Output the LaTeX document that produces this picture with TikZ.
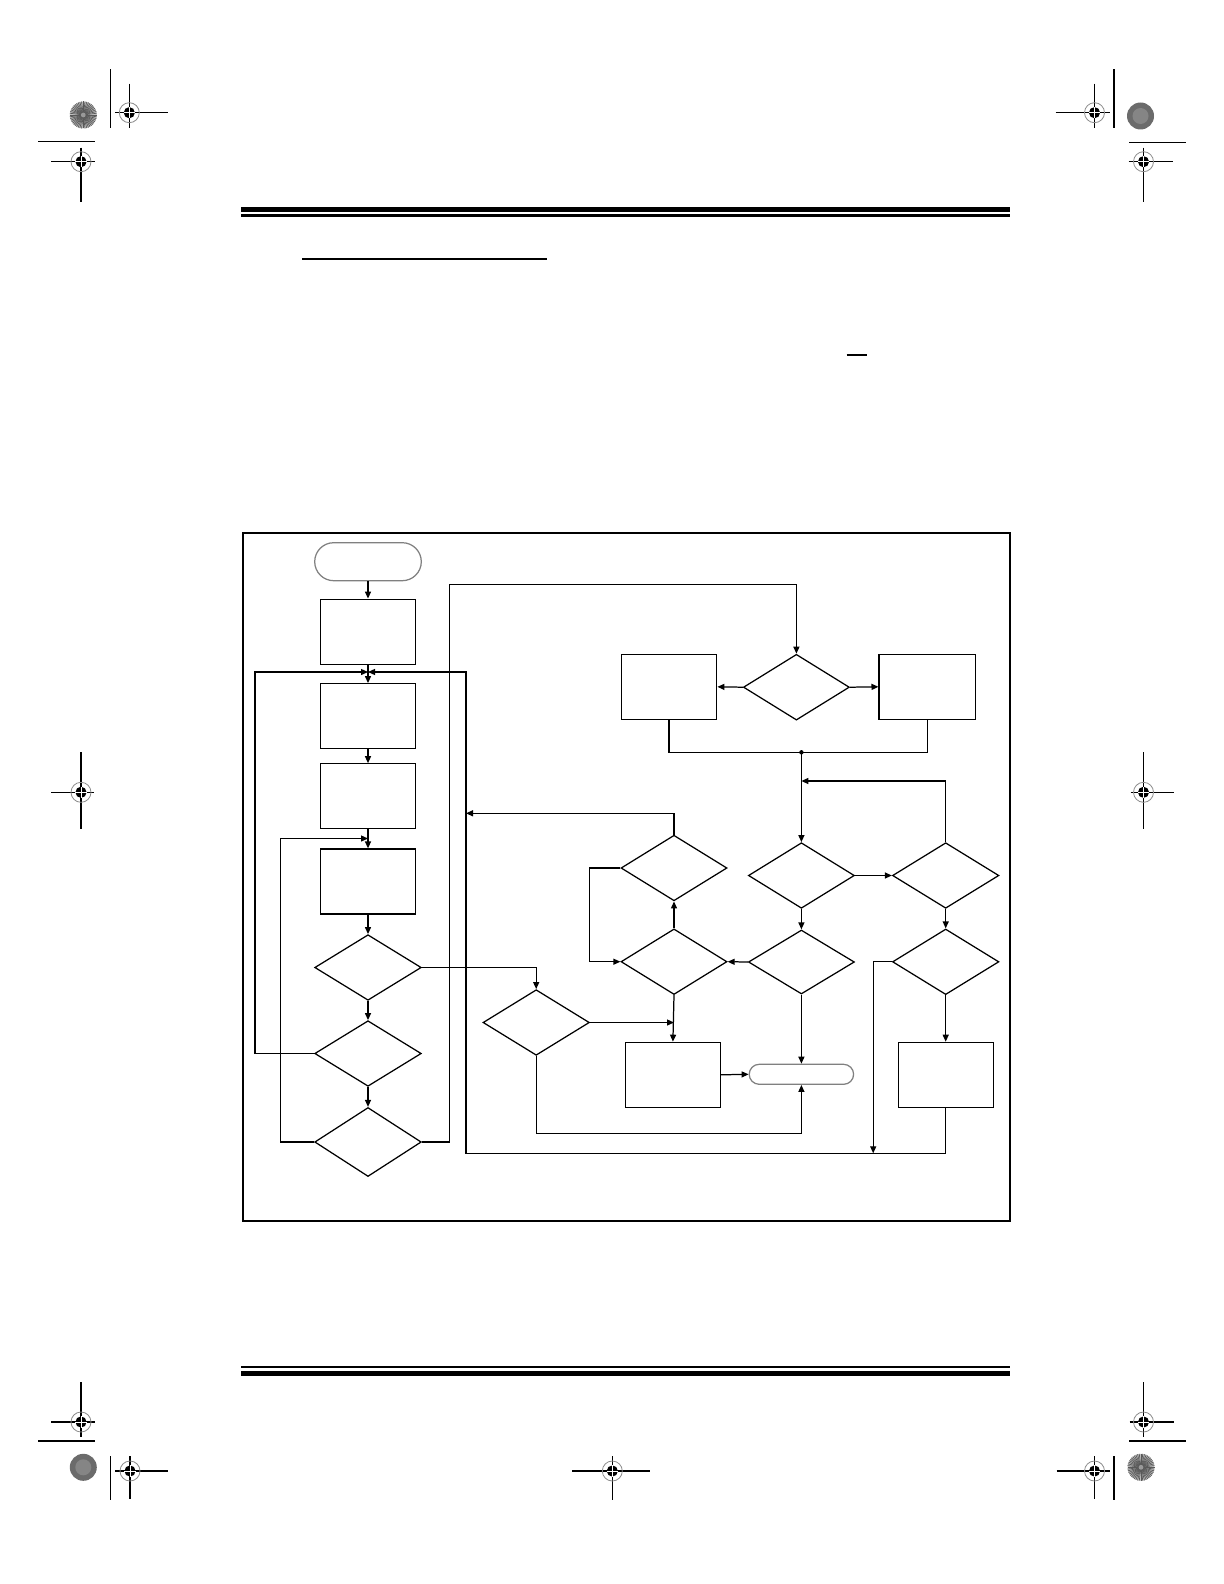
\documentclass[tikz,border=0pt]{standalone}
\usetikzlibrary{shapes.geometric,shapes.misc,arrows.meta}
\newcommand\regmk[6]{%
  \draw[line width=0.7pt] (#1-#3,#2) -- (#1+#4,#2) (#1,#2-#5) -- (#1,#2+#6);
  \draw[black!45, line width=0.4pt] (#1,#2) circle (5pt);
  \fill (#1,#2) circle (2.8pt);
  \draw[white, line width=0.35pt] (#1,#2) ++(-2.8pt,0) -- ++(5.6pt,0);
  \draw[white, line width=0.35pt] (#1,#2) ++(0,-2.8pt) -- ++(0,5.6pt);
}
\newcommand\burst[2]{%
  \fill[black!25] (#1,#2) circle (6.75pt);
  \foreach \a in {0,7.5,...,352.5} \draw[black!65, line width=0.35pt] (#1,#2) -- ++(\a:6.75pt);
  \fill[black!40] (#1,#2) circle (1.2pt);
}
\newcommand\darkdisc[2]{%
  \fill[black!58] (#1,#2) circle (6.75pt);
  \fill[black!48] (#1,#2) circle (4pt);
}
\begin{document}
\begin{tikzpicture}[x=0.5pt,y=-0.5pt,line width=0.62pt,
  arr/.style={-{Triangle[length=3.5pt,width=3pt]}},
  boxn/.style={draw, rectangle, minimum width=47.8pt, minimum height=32.5pt, inner sep=0pt},
  dia/.style={draw, diamond, minimum width=53pt, minimum height=32.8pt, inner sep=0pt},
  term/.style={draw=black!50, rounded rectangle, inner sep=0pt}]
\fill[white] (0,0) rectangle (1224,1584);
\useasboundingbox (0,0) rectangle (1224,1584);

% page furniture
\fill (241,206.7) rectangle (1010,211.7);
\fill (241,214.3) rectangle (1010,216.9);
\draw[line width=1pt] (302,259) -- (547,259);
\draw[line width=0.75pt] (846.7,355) -- (866.7,355);
\fill (241,1365.7) rectangle (1010,1368.2);
\fill (241,1371) rectangle (1010,1375.8);

% registration marks
\burst{83.3}{115}
\darkdisc{1140.5}{116}
\darkdisc{83.3}{1467.3}
\burst{1141}{1467.3}
\draw[line width=0.7pt] (110.3,69.3) -- (110.3,127.7);
\draw[line width=0.7pt] (1114,69.3) -- (1114,127.7);
\draw[line width=0.7pt] (38,141.7) -- (95,141.7);
\draw[line width=0.7pt] (1129,142.3) -- (1186,142.3);
\draw[line width=0.7pt] (38,1441) -- (95,1441);
\draw[line width=0.7pt] (1129,1441) -- (1186,1441);
\draw[line width=0.7pt] (110.3,1456) -- (110.3,1500);
\draw[line width=0.7pt] (1114,1456) -- (1114,1500);
\regmk{129.3}{112.7}{14}{39}{29}{15}
\regmk{81}{161.7}{30}{14}{14}{40}
\regmk{1094.5}{112.7}{39}{15}{29}{15}
\regmk{1143.5}{161.7}{15}{29}{14}{40}
\regmk{81}{792.3}{30}{13}{40}{37}
\regmk{1143.5}{792.3}{13}{30}{40}{37}
\regmk{81}{1422}{30}{14}{40}{15}
\regmk{130}{1471}{15}{38}{15}{28}
\regmk{612.3}{1471}{40}{38}{15}{29}
\regmk{1143.5}{1422}{14}{30}{40}{15}
\regmk{1094.5}{1471}{38}{15}{15}{28}

% frame
\draw[line width=0.7pt] (243,533) rectangle (1010,1221);

% left column
\node[term, minimum width=53.3pt, minimum height=19pt] (start) at (368,561.7) {};
\node[boxn] (b1) at (368,631.7) {};
\node[boxn] (b2) at (368,716.2) {};
\node[boxn] (b3) at (368,796.3) {};
\node[boxn] (b4) at (368,881.5) {};
\node[dia, minimum width=53.3pt] (d1) at (368,967.5) {};
\node[dia, minimum width=53.3pt] (d2) at (368,1053.5) {};
\node[dia, minimum width=53.3pt, minimum height=34.5pt] (d3) at (368,1142) {};

% right part
\node[dia, minimum height=32.9pt] (dtop) at (796.4,687.2) {};
\node[boxn, minimum width=47.7pt] (bl) at (669.1,686.8) {};
\node[boxn, minimum width=48.3pt] (br) at (927.4,686.8) {};
\node[dia] (duc) at (801.4,875.5) {};
\node[dia, minimum width=53.2pt] (dur) at (945.7,875.5) {};
\node[dia] (dul) at (674,868) {};
\node[dia] (dml) at (674,961.7) {};
\node[dia, minimum height=32pt] (dmc) at (801.4,962) {};
\node[dia, minimum width=53.2pt] (dlr) at (945.7,961.8) {};
\node[dia, minimum width=53.2pt] (dlc) at (536.2,1022.5) {};
\node[boxn, minimum width=47.5pt] (bm) at (672.9,1074.8) {};
\node[boxn, minimum width=47.5pt] (brr) at (945.7,1074.8) {};
\node[term, minimum width=52.2pt, minimum height=10pt] (endt) at (801.4,1074.3) {};

% named free ends
\coordinate (jA) at (368,672);
\coordinate (jB) at (368,838.5);
\coordinate (J) at (801.4,752.3);
\coordinate (jC) at (801.4,781);
\coordinate (jD) at (674,1022.5);
\coordinate (xR) at (466,1153.3);
\coordinate (tR) at (466,813.3);
\coordinate (jE) at (873.2,1153.3);
\coordinate (tL) at (449.3,584.3);

% left column connectors
\draw[arr] (start) -- (b1);
\draw[arr] (b1) -- (b2);
\draw[arr] (b2) -- (b3);
\draw[arr] (b3) -- (b4);
\draw[arr] (b4) -- (d1);
\draw[arr] (d1) -- (d2);
\draw[arr] (d2) -- (d3);
\draw[arr] (d2.west) -- ++(-59,0) |- (jA);
\draw[arr] (d3.west) -- ++(-33.3,0) |- (jB);
\draw[arr] (d3.east) -| (tL) -| (dtop.north);
\draw[arr] (d1.east) -| (dlc.north);
\draw[arr] (brr.south) |- (xR) |- (jA);

% right part connectors
\draw[arr] (dtop.west) -- (bl.east);
\draw[arr] (dtop.east) -- (br.west);
\draw (bl.south) |- (J) -| (br.south);
\fill (J) circle (1.1pt);
\draw[arr] (J) -- (duc.north);
\draw[arr] (duc.east) -- (dur.west);
\draw[arr] (dur.north) |- (jC);
\draw[arr] (duc.south) -- (dmc.north);
\draw[arr] (dur.south) -- (dlr.north);
\draw[arr] (dmc.west) -- (dml.east);
\draw[arr] (dml.north) -- (dul.south);
\draw[arr] (dul.west) -- ++(-30.6,0) |- (dml.west);
\draw[arr] (dul.north) |- (tR);
\draw[arr] (dml.south) -- (bm.north);
\draw[arr] (dlc.east) -- (jD);
\draw[arr] (bm.east) -- (endt.west);
\draw[arr] (dmc.south) -- (endt.north);
\draw[arr] (dlc.south) -- ++(0,77.7) -| (endt.south);
\draw[arr] (dlr.west) -| (jE);
\draw[arr] (dlr.south) -- (brr.north);
\end{tikzpicture}
\end{document}
